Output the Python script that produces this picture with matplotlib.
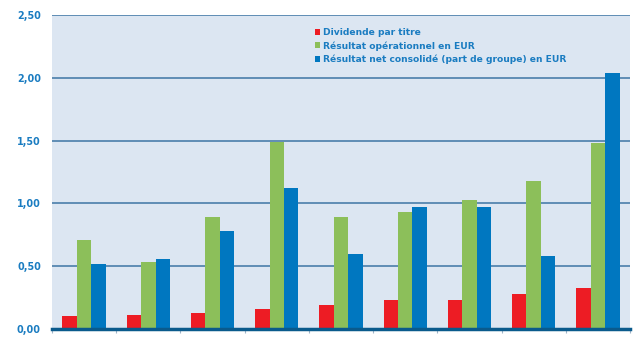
import matplotlib.pyplot as plt
import numpy as np

# data
series_names = [
    "Dividende par titre",
    "Résultat opérationnel en EUR",
    "Résultat net consolidé (part de groupe) en EUR",
]
dividende = [0.10, 0.11, 0.13, 0.16, 0.19, 0.23, 0.23, 0.28, 0.33]
resultat_op = [0.71, 0.53, 0.89, 1.49, 0.89, 0.93, 1.03, 1.18, 1.48]
resultat_net = [0.52, 0.56, 0.78, 1.12, 0.60, 0.97, 0.97, 0.58, 2.04]
y_ticks = [0.0, 0.5, 1.0, 1.5, 2.0, 2.5]

colors = ["#ed1c24", "#8cbf5a", "#0077c0"]
text_blue = "#1a7cc1"

fig = plt.figure(figsize=(6.34, 3.42), dpi=100)
ax = fig.add_axes([52 / 634, 1 - 329 / 342, 578 / 634, 314 / 342])
ax.set_facecolor("#dce6f2")

x = np.arange(len(dividende))
w = 0.225
for i, vals in enumerate([dividende, resultat_op, resultat_net]):
    ax.bar(x + (i - 1) * w, vals, w, color=colors[i], zorder=3,
           label=series_names[i])

ax.set_xlim(-0.5, len(dividende) - 0.5)
ax.set_ylim(0, 2.5)
ax.set_yticks(y_ticks)
ax.set_yticklabels([f"{v:.2f}".replace(".", ",") for v in y_ticks],
                   color=text_blue, fontweight="bold", fontsize=6.9)
ax.tick_params(axis="y", length=0, pad=8)
ax.yaxis.grid(True, color="#5f8db5", linewidth=1.4, zorder=1)
ax.set_axisbelow(True)

ax.set_xticks(np.arange(len(dividende) + 1) - 0.5)
ax.set_xticklabels([])
ax.tick_params(axis="x", length=3, color="#9fb4c8", width=0.8)

for s in ["left", "right", "top"]:
    ax.spines[s].set_visible(False)
ax.spines["bottom"].set_color("#0a5a8c")
ax.spines["bottom"].set_linewidth(2.5)
ax.spines["bottom"].set_zorder(4)

leg = ax.legend(loc="upper left", bbox_to_anchor=(0.44, 0.985), frameon=False,
                handlelength=0.6, handleheight=0.6, handletextpad=0.35,
                labelspacing=0.45, prop={"size": 6.6, "weight": "bold"})
for t in leg.get_texts():
    t.set_color(text_blue)

fig.savefig("out.png", dpi=100)
